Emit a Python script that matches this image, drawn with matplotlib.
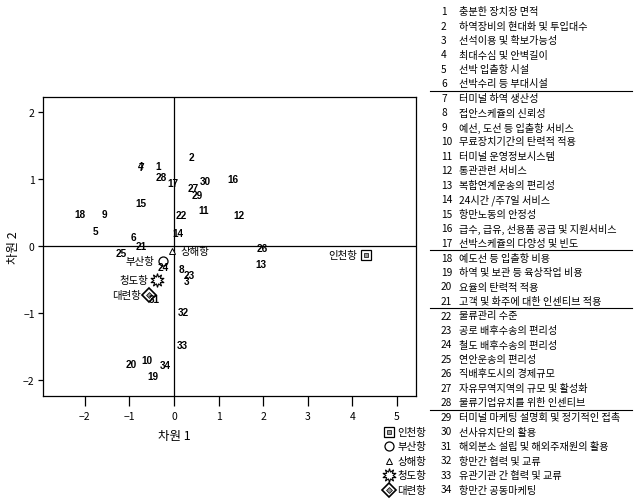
import matplotlib
matplotlib.use("Agg")
import matplotlib.pyplot as plt
from matplotlib.lines import Line2D

plt.rcParams['font.family'] = ['Noto Sans CJK KR', 'DejaVu Sans']

# 항목 좌표 (차원 1, 차원 2)
item_no = list(range(1, 35))
dim1 = [-0.36, 0.40, 0.27, -0.74, -1.77, -0.92, -0.72, 0.16, -1.57, -0.61,
        0.67, 1.46, 1.95, 0.09, -0.74, 1.32, -0.02, -2.11, -0.47, -0.96,
        -0.74, 0.16, 0.34, -0.25, -1.19, 1.97, 0.43, -0.29, 0.52, 0.70,
        -0.45, 0.20, 0.18, -0.20]
dim2 = [1.19, 1.33, -0.52, 1.19, 0.22, 0.13, 1.18, -0.34, 0.48, -1.70,
        0.54, 0.46, -0.27, 0.19, 0.64, 1.00, 0.94, 0.48, -1.94, -1.76,
        -0.01, 0.46, -0.43, -0.31, -0.10, -0.03, 0.87, 1.03, 0.76, 0.97,
        -0.79, -0.99, -1.48, -1.78]

item_names = ["충분한 장치장 면적", "하역장비의 현대화 및 투입대수", "선석이용 및 확보가능성",
              "최대수심 및 안벽길이", "선박 입출항 시설", "선박수리 등 부대시설",
              "터미널 하역 생산성", "접안스케쥴의 신뢰성", "예선, 도선 등 입출항 서비스",
              "무료장치기간의 탄력적 적용", "터미널 운영정보시스템", "통관관련 서비스",
              "복합연계운송의 편리성", "24시간 /주7일 서비스", "항만노동의 안정성",
              "급수, 급유, 선용품 공급 및 지원서비스", "선박스케쥴의 다양성 및 빈도",
              "예도선 등 입출항 비용", "하역 및 보관 등 육상작업 비용", "요율의 탄력적 적용",
              "고객 및 화주에 대한 인센티브 적용", "물류관리 수준", "공로 배후수송의 편리성",
              "철도 배후수송의 편리성", "연안운송의 편리성", "직배후도시의 경제규모",
              "자유무역지역의 규모 및 활성화", "물류기업유치를 위한 인센티브",
              "터미널 마케팅 설명회 및 정기적인 접촉", "선사유치단의 활용",
              "해외분소 설립 및 해외주재원의 활용", "항만간 협력 및 교류",
              "유관기관 간 협력 및 교류", "항만간 공동마케팅"]
group_breaks = [6, 17, 21, 28]

# 항만 좌표
ports = ["인천항", "부산항", "상해항", "청도항", "대련항"]
port_d1 = [4.30, -0.25, -0.04, -0.38, -0.56]
port_d2 = [-0.13, -0.22, -0.07, -0.51, -0.73]

W, H = 634, 502
fig = plt.figure(figsize=(W / 100, H / 100), dpi=100)
ax = fig.add_axes([43 / W, 1 - 397 / H, (416 - 43) / W, (397 - 98) / H])
ax.set_xlim(-2.94, 5.43)
ax.set_ylim(-2.24, 2.22)

ax.axhline(0, color='black', lw=0.9)
ax.axvline(0, color='black', lw=0.9)
for s in ax.spines.values():
    s.set_linewidth(0.9)

ax.set_xticks([-2, -1, 0, 1, 2, 3, 4, 5])
ax.set_yticks([-2, -1, 0, 1, 2])
ax.tick_params(axis='x', length=7, width=0.9, pad=3.5, labelsize=7.5)
ax.tick_params(axis='y', length=3.5, width=0.9, pad=2.5, labelsize=7.5)

# 항목 번호
for n, x, y in zip(item_no, dim1, dim2):
    ax.text(x, y, str(n), ha='center', va='center', fontsize=7.2,
            fontweight='bold', family=['Liberation Sans', 'DejaVu Sans'])

# 항만 마커 스타일
port_styles = [
    dict(marker='s', ms=7, mfc='white', mec='black', mew=0.9),
    dict(marker='o', ms=6.5, mfc='white', mec='black', mew=0.9),
    dict(marker='^', ms=5, mfc='white', mec='black', mew=0.7),
    dict(marker=(10, 1, 0), ms=10, mfc='white', mec='black', mew=0.8),
    dict(marker='D', ms=7, mfc='white', mec='black', mew=1.2),
]
inner_styles = [
    dict(marker='s', ms=3, mfc='#999999', mec='black', mew=0.5),
    None,
    None,
    None,
    dict(marker='D', ms=3, mfc='#999999', mec='black', mew=0.5),
]
label_side = [-1, -1, 1, -1, -1]

for name, x, y, st, inn, side in zip(ports, port_d1, port_d2, port_styles, inner_styles, label_side):
    ax.plot([x], [y], ls='none', **st)
    if inn:
        ax.plot([x], [y], ls='none', **inn)
    ax.annotate(name, (x, y), xytext=(6 * side, 0), textcoords='offset points',
                ha='right' if side < 0 else 'left', va='center', fontsize=7.5)

ax.set_xlabel("차원 1", fontsize=9)
ax.xaxis.set_label_coords((174 - 43) / (416 - 43), -0.11)
ax.set_ylabel("차원 2", fontsize=9, labelpad=2)


def fy(py):
    return 1 - py / H


row_y = [12 + i * 14.5 for i in range(len(item_names))]

# 오른쪽 항목 목록
for i, (n, name) in enumerate(zip(item_no, item_names)):
    fig.text(441 / W, fy(row_y[i]), str(n), ha='left', va='center', fontsize=7.3)
    fig.text(459 / W, fy(row_y[i]), name, ha='left', va='center', fontsize=7.3)

for b in group_breaks:
    yb = fy((row_y[b - 1] + row_y[b]) / 2)
    fig.add_artist(Line2D([430 / W, 632 / W], [yb, yb], color='black', lw=0.8))

# 범례
for k, (name, st, inn) in enumerate(zip(ports, port_styles, inner_styles)):
    yl = fy(row_y[29 + k])
    fig.add_artist(Line2D([389 / W], [yl], ls='none', **st))
    if inn:
        fig.add_artist(Line2D([389 / W], [yl], ls='none', **inn))
    fig.text(397 / W, yl, name, ha='left', va='center', fontsize=7.5)

fig.savefig("out.png", dpi=100)
